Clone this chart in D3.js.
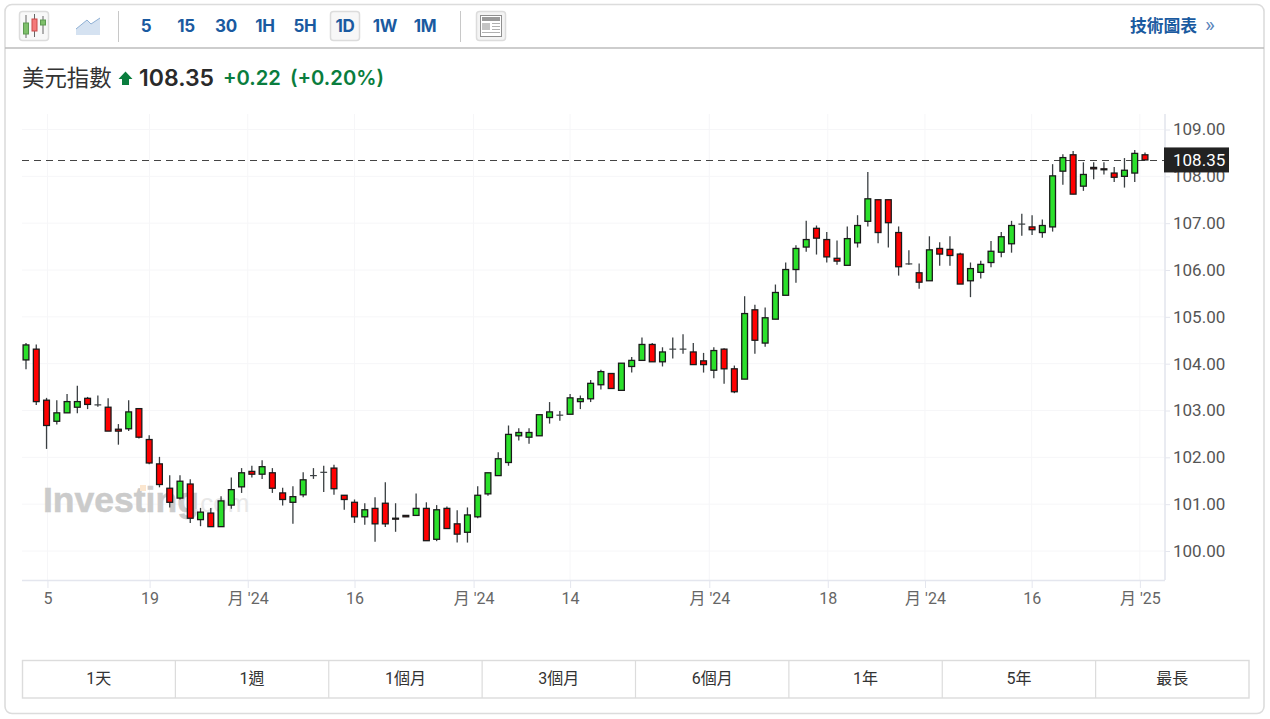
<!DOCTYPE html>
<html lang="zh-Hant"><head><meta charset="utf-8">
<script src="https://cdnjs.cloudflare.com/ajax/libs/d3/7.8.5/d3.min.js"></script>
<style>
html,body{margin:0;padding:0;background:#fff;overflow:hidden}
svg{display:block;font-family:Roboto,"Noto Sans CJK TC",sans-serif}
</style></head><body><svg id="c" width="1270" height="719"></svg>
<script>
const candleOpen=[104.08,104.31,103.22,102.77,102.95,103.07,103.26,103.12,103.07,102.60,102.61,103.04,102.38,101.86,101.34,101.13,101.43,100.67,100.81,100.52,100.98,101.37,101.70,101.64,101.67,101.24,101.04,101.20,101.61,101.68,101.77,101.19,101.04,100.73,100.91,101.02,100.70,100.76,100.76,100.91,100.25,100.91,100.58,100.40,100.73,101.22,101.61,101.89,102.46,102.43,102.46,102.85,102.90,102.92,103.19,103.25,103.55,103.79,103.43,103.94,104.07,104.41,104.04,104.31,104.31,104.25,104.06,103.86,104.31,103.89,103.67,105.15,104.44,104.95,105.46,106.01,106.49,106.89,106.65,106.25,106.10,106.58,107.04,107.50,107.50,106.80,106.13,105.94,105.77,106.46,106.44,106.34,105.77,105.95,106.16,106.38,106.56,106.98,106.92,106.80,106.92,108.11,108.46,107.79,108.19,108.16,108.07,108.00,108.07,108.46];
const candleHigh=[104.44,104.41,103.27,103.22,103.35,103.53,103.29,103.32,103.26,102.71,103.22,103.04,102.47,102.01,101.62,101.62,101.53,100.92,100.92,101.17,101.57,101.77,101.82,101.94,101.77,101.35,101.38,101.68,101.77,101.82,101.84,101.19,101.10,101.02,101.15,101.47,101.02,100.76,101.23,101.04,100.98,100.95,100.87,100.93,101.38,101.67,102.11,102.68,102.62,102.62,102.91,103.18,102.99,103.35,103.32,103.65,103.87,103.79,104.01,104.14,104.56,104.44,104.35,104.56,104.63,104.44,104.23,104.35,104.33,103.96,105.44,105.26,105.20,105.69,106.16,106.53,107.05,106.95,106.81,106.63,106.93,107.17,108.09,107.50,107.50,106.93,106.42,106.14,106.72,106.59,106.72,106.37,106.16,106.20,106.62,106.81,107.05,107.20,107.17,107.08,108.26,108.47,108.54,108.30,108.30,108.30,108.20,108.39,108.56,108.51];
const candleLow=[103.88,103.12,102.18,102.70,102.95,102.94,103.03,103.08,102.56,102.27,102.56,102.40,101.85,101.36,100.93,101.10,100.60,100.53,100.52,100.52,100.90,101.24,101.57,101.54,101.24,100.97,100.58,101.15,101.54,101.26,101.20,100.88,100.60,100.56,100.20,100.51,100.41,100.73,100.76,100.22,100.21,100.48,100.18,100.18,100.70,101.18,101.61,101.82,102.36,102.29,102.46,102.72,102.78,102.92,103.03,103.18,103.45,103.47,103.43,103.81,104.07,104.04,103.94,104.11,104.21,103.98,103.81,103.69,103.57,103.37,103.67,104.21,104.36,104.95,105.46,105.73,106.39,106.33,106.16,106.11,106.10,106.48,106.93,106.57,106.48,105.88,106.11,105.60,105.77,106.09,106.09,105.70,105.42,105.82,106.06,106.27,106.37,106.73,106.75,106.69,106.82,107.82,107.62,107.69,107.94,108.04,107.88,107.76,107.88,108.35];
const candleClose=[104.40,103.19,102.68,102.95,103.19,103.19,103.13,103.12,102.56,102.56,102.97,102.43,101.88,101.42,101.04,101.49,100.70,100.83,100.52,101.07,101.31,101.67,101.64,101.80,101.34,101.10,101.16,101.52,101.61,101.68,101.33,101.10,100.73,100.88,100.58,100.58,100.68,100.73,100.91,100.22,100.88,100.48,100.36,100.77,101.19,101.67,101.97,102.49,102.53,102.53,102.91,102.97,102.90,103.27,103.25,103.58,103.83,103.47,104.01,104.07,104.41,104.04,104.25,104.31,104.31,103.98,103.98,104.28,103.89,103.40,105.07,104.50,104.98,105.52,106.01,106.46,106.65,106.68,106.28,106.19,106.67,106.95,107.52,106.80,107.01,106.07,106.13,105.74,106.43,106.34,106.31,105.70,106.03,106.12,106.40,106.71,106.95,106.98,106.86,106.95,108.01,108.40,107.62,108.04,108.16,108.14,107.98,108.13,108.49,108.35];
const yTicks=[100,101,102,103,104,105,106,107,108,109];
const xTickPos=[2.09,12.04,21.6,32,43.6,53,66.56,78.1,87.57,97.96,108.5];
const xTickLabels=["5","19","月 '24","16","月 '24","14","月 '24","18","月 '24","16","月 '25"];
const lastPrice=108.35;
const timeframes=["5","15","30","1H","5H","1D","1W","1M"];
const timeframeCenters=[146,186,226,265,305,345,385,425];
const rangeLabels=["1天","1週","1個月","3個月","6個月","1年","5年","最長"];
const colors={up:"#2be02b",down:"#ff0000",body:"#1a1a1a",wick:"#3a3f42",grid:"#f6f6f8",axis:"#e4e6ee",blue:"#1a5aa0",green:"#0a7d3e"};

const svg=d3.select("#c");
const L=22,R=1164,T=114,B=580;
const x=d3.scaleLinear().domain([0,109]).range([26,1145]);
const y=d3.scaleLinear().domain([100,109]).range([551,129.5]);

// card
svg.append("rect").attr("x",5).attr("y",4.5).attr("width",1259).attr("height",709).attr("rx",7)
  .attr("fill","#fff").attr("stroke","#dcdcdc").attr("stroke-width",1.6);
svg.append("line").attr("x1",5).attr("x2",1264).attr("y1",48).attr("y2",48).attr("stroke","#bcbcbc").attr("stroke-width",1.4);

// toolbar
function btn(xp,yp,w,h,fill){svg.append("rect").attr("x",xp+.5).attr("y",yp+.5).attr("width",w-1).attr("height",h-1).attr("rx",3).attr("fill",fill).attr("stroke","#dcdcdc").attr("stroke-width",1.5);}
btn(19,11,30,30,"#f8f8f8");
[[26,15,38,23,34,"#7ec06a","#5e9a52"],[34.5,14,37,19,31,"#f47a7a","#c84a4a"],[43,16,34,20,25,"#7ec06a","#5e9a52"]].forEach(([cx,t,b,bt,bb,f,s])=>{
  svg.append("line").attr("x1",cx).attr("x2",cx).attr("y1",t).attr("y2",b).attr("stroke","#666").attr("stroke-width",1);
  svg.append("rect").attr("x",cx-2.5).attr("y",bt).attr("width",5).attr("height",bb-bt).attr("fill",f).attr("stroke",s);
});
svg.append("path").attr("d","M76,29 L87,20 L91,24 L100,18 L100,35 L76,35 Z").attr("fill","#d5e2f1");
svg.append("path").attr("d","M76,29 L87,20 L91,24 L100,18").attr("fill","none").attr("stroke","#8fb0d4").attr("stroke-width",1);
[118,460].forEach(v=>svg.append("line").attr("x1",v+.5).attr("x2",v+.5).attr("y1",11).attr("y2",42).attr("stroke","#c8c8c8").attr("stroke-width",1));
btn(330,11,30,30,"#f7f7f7");
timeframes.forEach((t,i)=>svg.append("text").attr("x",timeframeCenters[i]).attr("y",32).attr("text-anchor","middle")
  .attr("font-size",17).attr("font-weight",700).attr("fill",colors.blue).attr("font-family","Inter").attr("letter-spacing",-0.3).text(t));
btn(476,11,30,30,"#f4f4f4");
svg.append("rect").attr("x",480.5).attr("y",15.5).attr("width",21).attr("height",21).attr("fill","#fff").attr("stroke","#8f8f8f");
svg.append("rect").attr("x",482).attr("y",17).attr("width",18).attr("height",4).attr("fill","#9a9a9a");
svg.append("rect").attr("x",482).attr("y",23).attr("width",8).attr("height",7).attr("fill","#c4c4c4");
[[23.5,492,500],[26.5,492,500],[29.5,492,500],[32.5,482,500]].forEach(([yy,a,b])=>svg.append("line").attr("x1",a).attr("x2",b).attr("y1",yy).attr("y2",yy).attr("stroke","#b0b0b0"));
svg.append("text").attr("x",1130).attr("y",32).attr("font-size",16.8).attr("font-weight",700).attr("fill",colors.blue).attr("font-family",'"Noto Sans CJK TC"').text("技術圖表");
svg.append("text").attr("x",1205).attr("y",32).attr("font-size",21).attr("fill","#5a85bb").text("»");

// title
svg.append("text").attr("x",22).attr("y",86).attr("font-size",22.4).attr("fill","#333").attr("font-family",'"Noto Sans CJK TC"').text("美元指數");
svg.append("path").attr("d","M125.5,71.5 L132.5,79 L129,79 L129,85 L122,85 L122,79 L118.5,79 Z").attr("fill",colors.green);
svg.append("text").attr("x",139).attr("y",86).attr("font-size",23).attr("font-weight",600).attr("fill","#2a2a2a").attr("font-family","Inter").text("108.35");
svg.append("text").attr("x",223).attr("y",85).attr("font-size",20.2).attr("font-weight",600).attr("fill",colors.green).attr("font-family","Inter").text("+0.22");
svg.append("text").attr("x",290).attr("y",85).attr("font-size",20.2).attr("font-weight",600).attr("fill",colors.green).attr("font-family","Inter").text("(+0.20%)");

// grid
const plot=svg.append("g");
plot.append("g").selectAll("line").data(yTicks).join("line").attr("x1",L).attr("x2",R).attr("y1",d=>y(d)).attr("y2",d=>y(d)).attr("stroke",colors.grid).attr("stroke-width",1);
plot.append("g").selectAll("line").data(xTickPos).join("line").attr("x1",d=>x(d)).attr("x2",d=>x(d)).attr("y1",T).attr("y2",B).attr("stroke",colors.grid).attr("stroke-width",1);

// watermark
const wm=plot.append("g");
wm.append("text").attr("x",43).attr("y",512).attr("font-size",35.5).attr("font-weight",700).attr("font-family",'"Liberation Sans"').attr("fill","#cbcbcb").attr("stroke","#cbcbcb").attr("stroke-width",.5).text("Investing");
wm.append("text").attr("x",193).attr("y",512).attr("font-size",26).attr("font-family",'"Liberation Sans"').attr("fill","#e8e8e8").text(".com");
wm.append("rect").attr("x",140).attr("y",485).attr("width",6).attr("height",6).attr("fill","#fbe6cf");

// axes
const yAxis=d3.axisRight(y).tickValues(yTicks).tickFormat(d3.format(".2f")).tickSize(5).tickPadding(3);
const gy=svg.append("g").attr("transform",`translate(${R+1},0)`).call(yAxis);
gy.select(".domain").remove();
gy.selectAll("line").attr("stroke",colors.axis);
gy.selectAll("text").attr("font-size",17).attr("fill","#555").attr("font-family","Roboto");
svg.append("line").attr("x1",R+1).attr("x2",R+1).attr("y1",T).attr("y2",B).attr("stroke",colors.axis).attr("stroke-width",1.6);
const xAxis=d3.axisBottom(x).tickValues(xTickPos).tickFormat((d,i)=>xTickLabels[i]).tickSize(8).tickPadding(5);
const gx=svg.append("g").attr("transform",`translate(0,${B})`).call(xAxis);
gx.select(".domain").remove();
gx.selectAll("line").attr("stroke",colors.axis);
gx.selectAll("text").attr("font-size",16).attr("fill","#666").attr("font-family",'Roboto,"Noto Sans CJK TC"');
svg.append("line").attr("x1",L).attr("x2",R+1).attr("y1",B+.5).attr("y2",B+.5).attr("stroke",colors.axis).attr("stroke-width",1.4);

// last price line
const ly=Math.round(y(lastPrice))+.5;
svg.append("line").attr("x1",L).attr("x2",R).attr("y1",ly).attr("y2",ly).attr("stroke","#444").attr("stroke-width",1).attr("stroke-dasharray","7,5");

// candles
const idx=d3.range(candleOpen.length);
const bw=5.8;
const g=svg.append("g");
g.selectAll(".w").data(idx).join("line").attr("x1",i=>x(i)).attr("x2",i=>x(i)).attr("y1",i=>y(candleHigh[i])).attr("y2",i=>y(candleLow[i]))
  .attr("stroke",colors.wick).attr("stroke-width",1.3);
const flat=idx.filter(i=>candleOpen[i]===candleClose[i]);
const solid=idx.filter(i=>candleOpen[i]!==candleClose[i]);
g.selectAll(".f").data(flat).join("line").attr("x1",i=>x(i)-bw/2-.5).attr("x2",i=>x(i)+bw/2+.5).attr("y1",i=>y(candleOpen[i])).attr("y2",i=>y(candleOpen[i]))
  .attr("stroke",colors.wick).attr("stroke-width",1.2);
g.selectAll(".b").data(solid).join("rect")
  .attr("x",i=>x(i)-bw/2).attr("width",bw)
  .attr("y",i=>y(Math.max(candleOpen[i],candleClose[i])))
  .attr("height",i=>Math.abs(y(candleOpen[i])-y(candleClose[i])))
  .attr("fill",i=>candleClose[i]>candleOpen[i]?colors.up:colors.down)
  .attr("stroke",colors.body).attr("stroke-width",1.3);

// price tag
svg.append("rect").attr("x",1164).attr("y",y(lastPrice)-12.5).attr("width",65).attr("height",25).attr("fill","#222");
svg.append("text").attr("x",1173).attr("y",y(lastPrice)+6).attr("font-size",17).attr("fill","#fff").attr("font-family","Roboto").text(d3.format(".2f")(lastPrice));

// range buttons
const rx=d3.scaleBand().domain(rangeLabels).range([22,1249]);
const rg=svg.append("g");
rg.append("rect").attr("x",22.5).attr("y",660.5).attr("width",1226.5).attr("height",37.5).attr("fill","#fff").attr("stroke","#dcdcdc").attr("stroke-width",1.4);
rangeLabels.slice(1).forEach(l=>rg.append("line").attr("x1",rx(l)).attr("x2",rx(l)).attr("y1",660).attr("y2",698).attr("stroke","#dcdcdc").attr("stroke-width",1.2));
rangeLabels.forEach(l=>rg.append("text").attr("x",rx(l)+rx.bandwidth()/2).attr("y",684).attr("text-anchor","middle").attr("font-size",16).attr("fill","#333").attr("font-family",'Roboto,"Noto Sans CJK TC"').text(l));
</script></body></html>
